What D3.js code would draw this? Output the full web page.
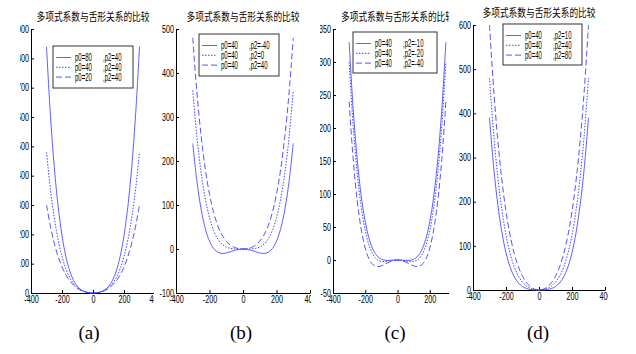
<!DOCTYPE html>
<html>
<head>
<meta charset="utf-8">
<script src="https://cdn.jsdelivr.net/npm/d3@7"></script>
<style>
body { margin: 0; background: #fff; }
</style>
</head>
<body>
<svg id="chart" width="636" height="354"></svg>
<script>
// x positions of the sampled curve points
var xs = [-300, -275, -250, -225, -200, -175, -150, -125, -100, -75, -50, -25, 0,
          25, 50, 75, 100, 125, 150, 175, 200, 225, 250, 275, 300];
var xTicks = [-400, -200, 0, 200, 400];

// (a) p2 = 40, p0 varies
var a1 = [840, 609.2, 430.6, 295.3, 195.6, 124.2, 75, 42.5, 22.2, 10.3, 3.9, 0.9, 0, 0.9, 3.9, 10.3, 22.2, 42.5, 75, 124.2, 195.6, 295.3, 430.6, 609.2, 840];
var a2 = [480, 355, 256.9, 181.4, 124.4, 82.5, 52.5, 31.7, 17.8, 8.9, 3.6, 0.9, 0, 0.9, 3.6, 8.9, 17.8, 31.7, 52.5, 82.5, 124.4, 181.4, 256.9, 355, 480];
var a3 = [300, 227.9, 170.1, 124.5, 88.9, 61.7, 41.3, 26.3, 15.6, 8.2, 3.5, 0.8, 0, 0.8, 3.5, 8.2, 15.6, 26.3, 41.3, 61.7, 88.9, 124.5, 170.1, 227.9, 300];
// (b) p0 = 40, p2 = -40 / 0 / 40
var b1 = [240, 153.4, 90.3, 46.4, 17.8, 0.9, -7.5, -10, -8.9, -6.1, -3.1, -0.8, 0, -0.8, -3.1, -6.1, -8.9, -10, -7.5, 0.9, 17.8, 46.4, 90.3, 153.4, 240];
var b2 = [360, 254.2, 173.6, 113.9, 71.1, 41.7, 22.5, 10.9, 4.4, 1.4, 0.3, 0, 0, 0, 0.3, 1.4, 4.4, 10.9, 22.5, 41.7, 71.1, 113.9, 173.6, 254.2, 360];
var b3 = [480, 355, 256.9, 181.4, 124.4, 82.5, 52.5, 31.7, 17.8, 8.9, 3.6, 0.9, 0, 0.9, 3.6, 8.9, 17.8, 31.7, 52.5, 82.5, 124.4, 181.4, 256.9, 355, 480];
// (c) p0 = 40, p2 = -10 / -20 / -40
var c1 = [330, 229, 152.8, 97, 57.8, 31.5, 15, 5.6, 1.1, -0.5, -0.6, -0.2, 0, -0.2, -0.6, -0.5, 1.1, 5.6, 15, 31.5, 57.8, 97, 152.8, 229, 330];
var c2 = [300, 203.8, 131.9, 80.2, 44.4, 21.3, 7.5, 0.4, -2.2, -2.3, -1.4, -0.4, 0, -0.4, -1.4, -2.3, -2.2, 0.4, 7.5, 21.3, 44.4, 80.2, 131.9, 203.8, 300];
var c3 = [240, 153.4, 90.3, 46.4, 17.8, 0.9, -7.5, -10, -8.9, -6.1, -3.1, -0.8, 0, -0.8, -3.1, -6.1, -8.9, -10, -7.5, 0.9, 17.8, 46.4, 90.3, 153.4, 240];
// (d) p0 = 40, p2 = 10 / 40 / 80
var d1 = [390, 279.4, 194.4, 130.8, 84.4, 51.9, 30, 16.1, 7.8, 3.3, 1.1, 0.2, 0, 0.2, 1.1, 3.3, 7.8, 16.1, 30, 51.9, 84.4, 130.8, 194.4, 279.4, 390];
var d2 = [480, 355, 256.9, 181.4, 124.4, 82.5, 52.5, 31.7, 17.8, 8.9, 3.6, 0.9, 0, 0.9, 3.6, 8.9, 17.8, 31.7, 52.5, 82.5, 124.4, 181.4, 256.9, 355, 480];
var d3s = [600, 455.9, 340.3, 248.9, 177.8, 123.4, 82.5, 52.5, 31.1, 16.4, 6.9, 1.7, 0, 1.7, 6.9, 16.4, 31.1, 52.5, 82.5, 123.4, 177.8, 248.9, 340.3, 455.9, 600];

var yTicksA = [0, 100, 200, 300, 400, 500, 600, 700, 800, 900];
var yTicksB = [-100, 0, 100, 200, 300, 400, 500];
var yTicksC = [-50, 0, 50, 100, 150, 200, 250, 300, 350];
var yTicksD = [0, 100, 200, 300, 400, 500, 600];

var legendA = [["p0=80", ",p2=40"], ["p0=40", ",p2=40"], ["p0=20", ",p2=40"]];
var legendB = [["p0=40", ",p2=-40"], ["p0=40", ",p2=0"], ["p0=40", ",p2=40"]];
var legendC = [["p0=40", ",p2=-10"], ["p0=40", ",p2=-20"], ["p0=40", ",p2=-40"]];
var legendD = [["p0=40", ",p2=10"], ["p0=40", ",p2=40"], ["p0=40", ",p2=80"]];

var title = "多项式系数与舌形关系的比较";
var letters = ["(a)", "(b)", "(c)", "(d)"];

var panels = [
    { id: "a", yDomain: [0, 900], yTicks: yTicksA, series: [a1, a2, a3], legend: legendA },
    { id: "b", yDomain: [-100, 500], yTicks: yTicksB, series: [b1, b2, b3], legend: legendB },
    { id: "c", yDomain: [-50, 350], yTicks: yTicksC, series: [c1, c2, c3], legend: legendC },
    { id: "d", yDomain: [0, 600], yTicks: yTicksD, series: [d1, d2, d3s], legend: legendD }
];

// pixel layout of each sub-figure (the pasted images are cropped)
var layout = [
    { x0: 31, x1: 155, yt: 29, yb: 293, clip: [20, 154], leg: [53, 46, 80, 42], letter: 89 },
    { x0: 176, x1: 310, yt: 29, yb: 293, clip: [158, 311], leg: [199, 34, 80, 42], letter: 241 },
    { x0: 333, x1: 462, yt: 29, yb: 293, clip: [320, 449], leg: [353, 32, 84, 41], letter: 395 },
    { x0: 473, x1: 605, yt: 25, yb: 290, clip: [455, 608], leg: [503, 24, 79, 41], letter: 538 }
];

var styles = [
    { color: "#4d4dff", dash: null, width: 0.9 },
    { color: "#3030ff", dash: "1.5,1.5", width: 0.9 },
    { color: "#4040ff", dash: "6,3", width: 0.9 }
];

var svg = d3.select("#chart");
var defs = svg.append("defs");

function squeezedText(g, x, y, str, size, sx, anchor, family) {
    return g.append("text")
        .attr("transform", "translate(" + x + "," + y + ") scale(" + sx + ",1)")
        .attr("text-anchor", anchor)
        .attr("font-family", family)
        .attr("font-size", size)
        .attr("fill", "#000")
        .text(str);
}

panels.forEach(function(p, i) {
    var L = layout[i];

    defs.append("clipPath").attr("id", "clip-" + p.id)
        .append("rect")
        .attr("x", L.clip[0]).attr("y", 0)
        .attr("width", L.clip[1] - L.clip[0]).attr("height", 312);

    var g = svg.append("g").attr("clip-path", "url(#clip-" + p.id + ")");

    var x = d3.scaleLinear().domain([-400, 400]).range([L.x0, L.x1]);
    var y = d3.scaleLinear().domain(p.yDomain).range([L.yb, L.yt]);

    var xAxis = g.append("g")
        .attr("transform", "translate(0," + L.yb + ")")
        .call(d3.axisBottom(x).tickValues(xTicks).tickSizeInner(-3).tickSizeOuter(0)
            .tickPadding(3).tickFormat(function(d) { return String(d); }));

    var yAxis = g.append("g")
        .attr("transform", "translate(" + L.x0 + ",0)")
        .call(d3.axisLeft(y).tickValues(p.yTicks).tickSizeInner(-3).tickSizeOuter(0)
            .tickPadding(2).tickFormat(function(d) { return String(d); }));

    [xAxis, yAxis].forEach(function(ax) {
        ax.attr("font-family", "Liberation Sans, Arial, sans-serif").attr("font-size", 10);
        ax.select(".domain").attr("stroke", "#000").attr("stroke-width", 1);
        ax.selectAll(".tick line").attr("stroke", "#000");
        ax.selectAll(".tick text").attr("fill", "#000");
    });
    xAxis.selectAll(".tick text").attr("transform", "scale(0.72,1)");
    yAxis.selectAll(".tick text").attr("x", 0).attr("transform", "translate(-2,0) scale(0.72,1)");

    var line = d3.line()
        .x(function(d, j) { return x(xs[j]); })
        .y(function(d) { return y(d); })
        .curve(d3.curveCatmullRom);

    p.series.forEach(function(s, k) {
        g.append("path")
            .datum(s)
            .attr("fill", "none")
            .attr("stroke", styles[k].color)
            .attr("stroke-width", styles[k].width)
            .attr("stroke-dasharray", styles[k].dash)
            .attr("d", line);
    });

    squeezedText(g, (L.x0 + L.x1) / 2, L.yt - 8, title, 11, 0.79, "middle", "Noto Sans CJK SC");

    // legend
    var lg = g.append("g");
    lg.append("rect")
        .attr("x", L.leg[0]).attr("y", L.leg[1])
        .attr("width", L.leg[2]).attr("height", L.leg[3])
        .attr("fill", "#fff").attr("stroke", "#333").attr("stroke-width", 1);
    p.legend.forEach(function(lab, k) {
        var ry = L.leg[1] + 11.5 + k * 9.8;
        lg.append("line")
            .attr("x1", L.leg[0] + 3).attr("x2", L.leg[0] + 18)
            .attr("y1", ry).attr("y2", ry)
            .attr("stroke", styles[k].color)
            .attr("stroke-width", styles[k].width)
            .attr("stroke-dasharray", styles[k].dash);
        squeezedText(lg, L.leg[0] + 22, ry + 3.5, lab[0], 10, 0.6, "start", "Liberation Sans, Arial, sans-serif");
        squeezedText(lg, L.leg[0] + 50, ry + 3.5, lab[1], 10, 0.6, "start", "Liberation Sans, Arial, sans-serif");
    });

    svg.append("text")
        .attr("x", L.letter).attr("y", 339)
        .attr("text-anchor", "middle")
        .attr("font-family", "Liberation Serif, Times New Roman, serif")
        .attr("font-size", 19)
        .attr("fill", "#000")
        .text(letters[i]);
});
</script>
</body>
</html>
